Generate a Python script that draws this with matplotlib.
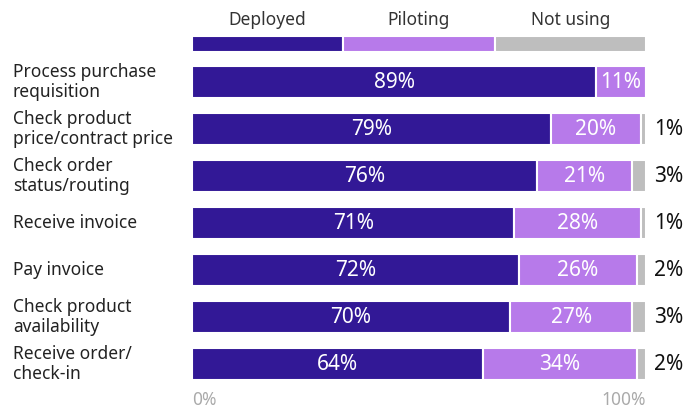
import matplotlib
matplotlib.use("Agg")
import matplotlib.pyplot as plt

categories = ["Process purchase\nrequisition", "Check product\nprice/contract price",
              "Check order\nstatus/routing", "Receive invoice", "Pay invoice",
              "Check product\navailability", "Receive order/\ncheck-in"]
deployed = [89, 79, 76, 71, 72, 70, 64]
piloting = [11, 20, 21, 28, 26, 27, 34]
not_using = [0, 1, 3, 1, 2, 3, 2]
series_names = ["Deployed", "Piloting", "Not using"]
colors = ["#321896", "#B77AEA", "#BEBEBE"]
tick_labels = ["0%", "100%"]

plt.rcParams['font.family'] = ['Noto Sans', 'DejaVu Sans']
W, H = 699, 411
fig = plt.figure(figsize=(W/100, H/100), dpi=100)

x0, x1 = 192, 646
ax = fig.add_axes([x0/W, 1-387.5/H, (x1-x0)/W, 329/H])
n = len(categories)
ys = list(range(n))
lefts = [0]*n
for vals, c, name in zip([deployed, piloting, not_using], colors, series_names):
    ax.barh(ys, vals, left=lefts, height=0.68, color=c, edgecolor="white", linewidth=1.5)
    for i, v in enumerate(vals):
        if v == 0:
            continue
        if name == "Not using":
            ax.text(lefts[i]+v+1.8, i, f"{v}%", va="center", ha="left", fontsize=15,
                    color="#111111")
        else:
            ax.text(lefts[i]+v/2, i, f"{v}%", va="center", ha="center", fontsize=15,
                    color="white")
    lefts = [l+v for l, v in zip(lefts, vals)]
ax.set_xlim(0, 100)
ax.set_ylim(n-0.5, -0.5)
ax.axis("off")

for i, cat in enumerate(categories):
    ax.text(-179/((x1-x0)/100), i, cat, va="center", ha="left", fontsize=12.5,
            color="#222222", linespacing=1.1)

# legend
lax = fig.add_axes([x0/W, 1-52/H, (x1-x0)/W, 16/H])
for j, (name, c) in enumerate(zip(series_names, colors)):
    lax.barh(0, 100/3, left=j*100/3, height=1, color=c, edgecolor="white", linewidth=1.5)
    fig.text((x0 + (j+0.5)*(x1-x0)/3)/W, 1-20/H, name, ha="center", va="center",
             fontsize=12.5, color="#333333")
lax.set_xlim(0, 100)
lax.set_ylim(-0.5, 0.5)
lax.axis("off")

fig.text(x0/W, 1-400/H, tick_labels[0], ha="left", va="center", fontsize=12.5, color="#AAAAAA")
fig.text(x1/W, 1-400/H, tick_labels[1], ha="right", va="center", fontsize=12.5, color="#AAAAAA")

fig.savefig("out.png", dpi=100)
